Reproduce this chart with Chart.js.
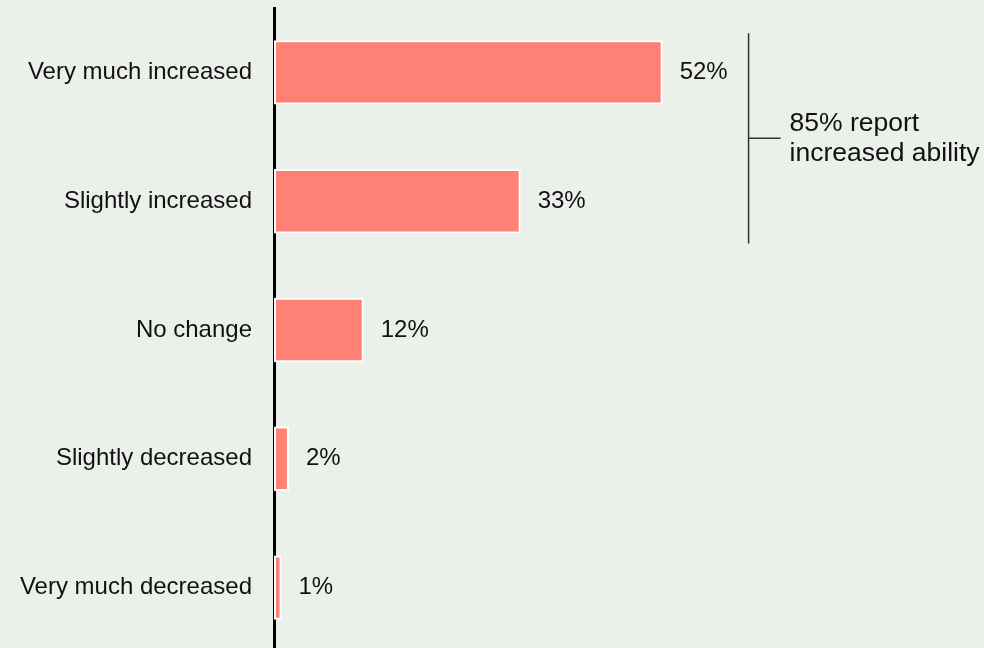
<!DOCTYPE html>
<html>
<head>
<meta charset="utf-8">
<script src="https://cdn.jsdelivr.net/npm/chart.js@4.4.1/dist/chart.umd.min.js"></script>
<style>
  html, body { margin: 0; padding: 0; overflow: hidden; background: #ecf0eb; }
  #wrap { width: 984px; height: 652px; position: relative; }
</style>
</head>
<body>
<div id="wrap"><canvas id="myChart"></canvas></div>
<script>
(() => {
  'use strict'

  const categories = ['Very much increased', 'Slightly increased', 'No change', 'Slightly decreased', 'Very much decreased'];
  const shares = [52, 33, 12, 2, 1];
  const noteLines = ['85% report', 'increased ability'];

  const FONT = '"Liberation Sans", Arial, sans-serif';
  const INK = '#111111';

  // percent labels just past the end of each bar
  const valueLabels = {
    id: 'valueLabels',
    afterDatasetsDraw(chart) {
      const ctx = chart.ctx;
      const meta = chart.getDatasetMeta(0);
      ctx.save();
      ctx.font = '24px ' + FONT;
      ctx.fillStyle = INK;
      ctx.textAlign = 'left';
      ctx.textBaseline = 'middle';
      meta.data.forEach((bar, i) => {
        ctx.fillText(shares[i] + '%', bar.x + 17, bar.y);
      });
      ctx.restore();
    }
  };

  // bracket grouping the two "increased" rows
  const bracketNote = {
    id: 'bracketNote',
    afterDraw(chart) {
      const ctx = chart.ctx;
      const meta = chart.getDatasetMeta(0);
      const b0 = meta.data[0], b1 = meta.data[1];
      const x = chart.scales.x.getPixelForValue(63.5);
      const top = b0.y - b0.height / 2 - 7;
      const bottom = b1.y + b1.height / 2 + 10;
      const mid = (top + bottom) / 2;
      ctx.save();
      ctx.strokeStyle = '#333333';
      ctx.lineWidth = 1.5;
      ctx.beginPath();
      ctx.moveTo(x, top);
      ctx.lineTo(x, bottom);
      ctx.moveTo(x, mid);
      ctx.lineTo(x + 32, mid);
      ctx.stroke();
      ctx.font = '26.5px ' + FONT;
      ctx.fillStyle = INK;
      ctx.textAlign = 'left';
      ctx.textBaseline = 'alphabetic';
      ctx.fillText(noteLines[0], x + 41, mid - 7);
      ctx.fillText(noteLines[1], x + 41, mid + 23);
      ctx.restore();
    }
  };

  const ctx = document.getElementById('myChart');
  new Chart(ctx, {
    type: 'bar',
    data: {
      labels: categories,
      datasets: [{
        data: shares,
        backgroundColor: '#ff8075',
        borderColor: '#ffffff',
        borderWidth: 2,
        borderSkipped: false,
        barPercentage: 0.5,
        categoryPercentage: 1.0
      }]
    },
    options: {
      indexAxis: 'y',
      responsive: true,
      maintainAspectRatio: false,
      animation: false,
      layout: { padding: { top: 8, right: 0, bottom: 0, left: 0 } },
      plugins: {
        legend: { display: false },
        tooltip: { enabled: false }
      },
      scales: {
        x: {
          display: false,
          min: 0,
          max: 95
        },
        y: {
          grid: { display: false, drawTicks: false },
          border: { display: true, color: '#000000', width: 3 },
          ticks: {
            color: INK,
            padding: 22,
            font: { family: FONT, size: 24 }
          },
          afterFit(scale) {
            scale.width = 274;
            scale.paddingTop = 0;
            scale.paddingBottom = 0;
          }
        }
      }
    },
    plugins: [valueLabels, bracketNote]
  });
})()
</script>
</body>
</html>
